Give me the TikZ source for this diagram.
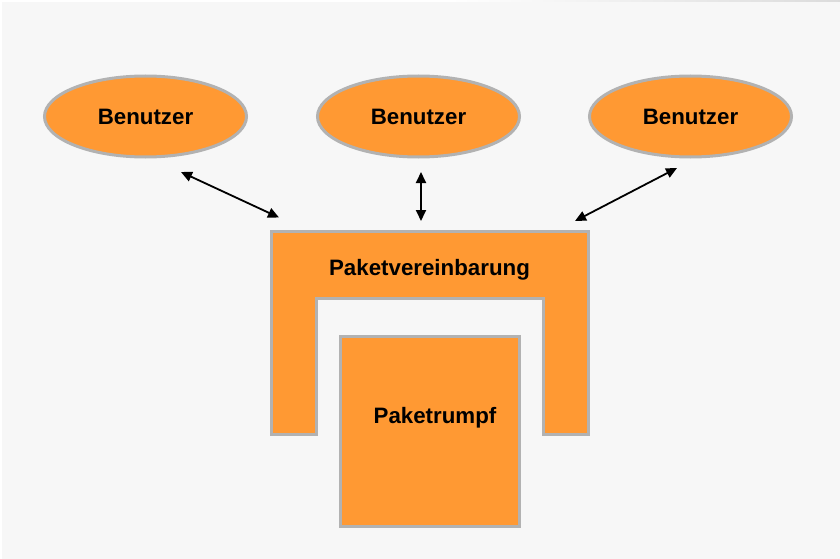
\documentclass[tikz,border=0pt]{standalone}
\usepackage{fontspec}
\setmainfont{Liberation Sans}
\usetikzlibrary{shapes.geometric,arrows.meta}
\definecolor{bg}{HTML}{F7F7F7}
\definecolor{boxfill}{HTML}{FF9933}
\definecolor{boxline}{HTML}{B2B2B2}
\tikzset{
  user/.style={ellipse, fill=boxfill, draw=boxline, line width=3pt,
    minimum width=202pt, minimum height=81pt, inner sep=0pt,
    font=\fontsize{22.3}{25}\selectfont\bfseries},
  part/.style={fill=boxfill, draw=boxline, line width=3pt},
  label/.style={font=\fontsize{22.3}{25}\selectfont\bfseries, inner sep=0pt},
  link/.style={line width=1.8pt, {Triangle[length=11pt,width=10pt]}-{Triangle[length=11pt,width=10pt]}}
}
\begin{document}
\begin{tikzpicture}[x=1pt,y=-1pt]
\useasboundingbox (0,0) rectangle (840,559);
% canvas
\fill[white] (0,0) rectangle (840,559);
\fill[bg] (2,2) rectangle (840,559);
\shade[left color=white, right color=black!14] (450,0) rectangle (840,2);

% users
\node[user] (u1) at (145.5,116.5) {Benutzer};
\node[user] (u2) at (418.5,116.5) {Benutzer};
\node[user] (u3) at (690.5,116.5) {Benutzer};

% package agreement (U-shaped frame)
\draw[part] (271,231) -- (588,231) -- (588,434.5) -- (543.5,434.5) -- (543.5,298.5)
  -- (316.5,298.5) -- (316.5,434.5) -- (271,434.5) -- cycle;
\node[label] (pv) at (429.5,270) {Paketvereinbarung};

% package body
\draw[part] (340,336) rectangle (519.5,526);
\node[label] (pr) at (435,418) {Paketrumpf};

% connector ends
\coordinate (a1) at (181,172);
\coordinate (b1) at (279,217.5);
\coordinate (a2) at (421,172);
\coordinate (b2) at (421,221);
\coordinate (a3) at (677,168);
\coordinate (b3) at (575,221);

\draw[link] (a1) -- (b1);
\draw[link] (a2) -- (b2);
\draw[link] (a3) -- (b3);
\end{tikzpicture}
\end{document}
